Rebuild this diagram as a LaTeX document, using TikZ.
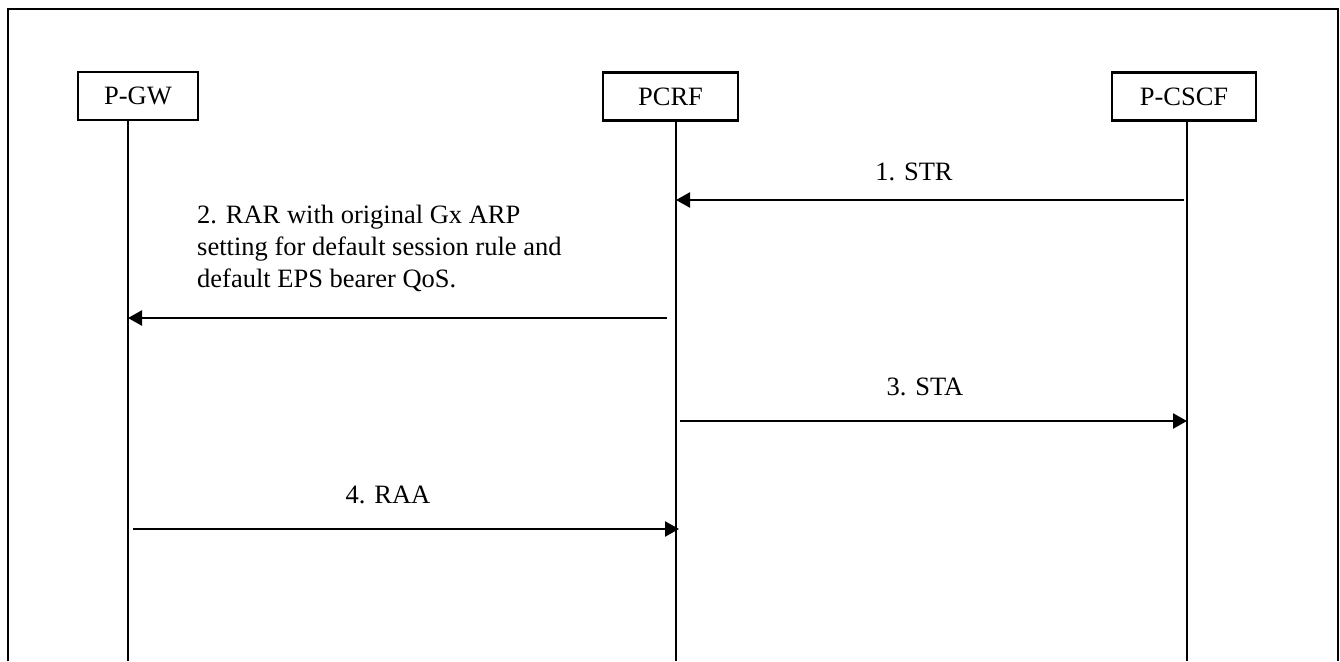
\documentclass[tikz,border=0pt]{standalone}
\usepackage{fontspec}
\setmainfont{Liberation Serif}
\usetikzlibrary{arrows.meta}
\begin{document}
\begin{tikzpicture}[x=1pt,y=-1pt,
  entity/.style={draw,line width=2.3pt,minimum height=48pt,inner sep=0pt,font=\fontsize{26.5}{32}\selectfont},
  life/.style={line width=1.8pt},
  msg/.style={line width=2.5pt,-{Triangle[length=14pt,width=15pt]}},
  lbl/.style={font=\fontsize{26.5}{32}\selectfont,inner sep=0pt}]
\useasboundingbox (0,0) rectangle (1340,661);
\draw[line width=2.3pt] (8,661) -- (8,9) -- (1338,9) -- (1338,661);
% entities
\node[entity,minimum width=120pt] (pgw) at (138,96) {P-GW};
\node[entity,minimum width=135pt] (pcrf) at (670.5,96.5) {PCRF};
\node[entity,minimum width=144pt] (pcscf) at (1184,96.5) {P-CSCF};
% lifeline bottoms
\coordinate (pgwb) at (128,661);
\coordinate (pcrfb) at (676,661);
\coordinate (pcscfb) at (1187,661);
\draw[life] (pgw.south -| pgwb) -- (pgwb);
\draw[life] (pcrf.south -| pcrfb) -- (pcrfb);
\draw[life] (pcscf.south -| pcscfb) -- (pcscfb);
% message levels
\coordinate (m1) at (0,200);
\coordinate (m2) at (0,318);
\coordinate (m3) at (0,421);
\coordinate (m4) at (0,529);
% messages
\draw[msg,shorten <=3pt] (pcscfb |- m1) -- (pcrfb |- m1);
\draw[msg,shorten <=9pt] (pcrfb |- m2) -- (pgwb |- m2);
\draw[msg,shorten <=4pt] (pcrfb |- m3) -- (pcscfb |- m3);
\draw[msg,shorten <=5pt,shorten >=-3pt] (pgwb |- m4) -- (pcrfb |- m4);
% labels
\node[lbl] (l1) at (914,172) {1. STR};
\node[lbl,anchor=north west,align=left] (l2) at (197,205) {2. RAR with original Gx ARP\\setting for default session rule and\\default EPS bearer QoS.};
\node[lbl] (l3) at (925,387) {3. STA};
\node[lbl] (l4) at (388,495) {4. RAA};
\end{tikzpicture}
\end{document}
